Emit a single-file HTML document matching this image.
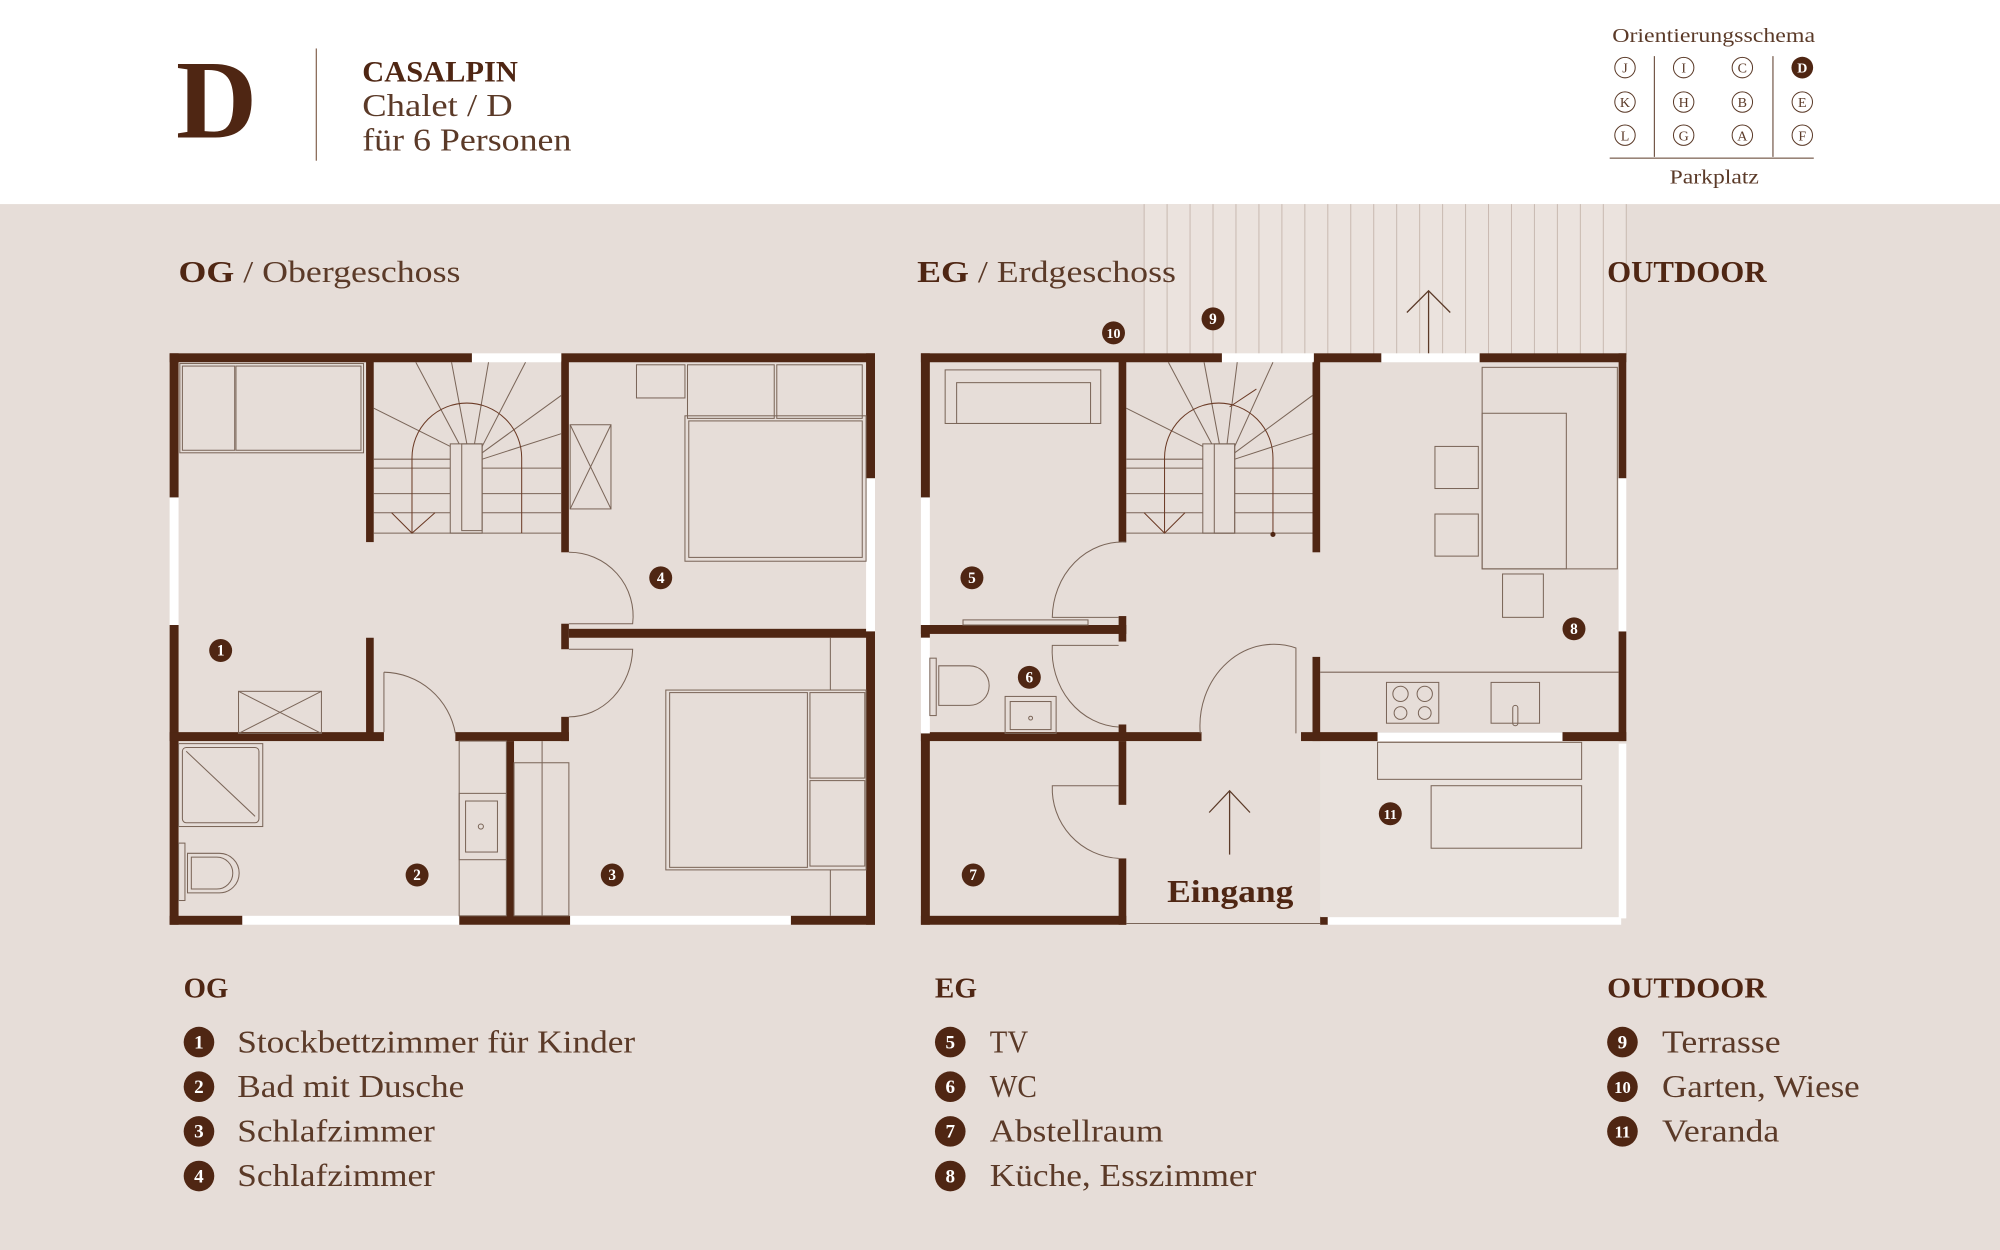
<!DOCTYPE html>
<html><head><meta charset="utf-8"><style>
html,body{margin:0;padding:0;background:#e6ddd8;}
svg{display:block}
text{font-family:"Liberation Serif",serif;}
</style></head><body>
<svg width="2000" height="1250" viewBox="0 0 1568 980" preserveAspectRatio="none" xmlns="http://www.w3.org/2000/svg">
<rect x="0" y="0" width="1568" height="980" fill="#e6ddd8"/>
<rect x="0" y="0" width="1568" height="160" fill="#ffffff"/>
<!-- header -->
<text x="138" y="108" font-size="88" font-weight="bold" fill="#4f2613">D</text>
<line x1="248" y1="38" x2="248" y2="126" stroke="#8a6a58" stroke-width="1"/>
<text x="284" y="64" font-size="23" font-weight="bold" fill="#4f2613" textLength="122" lengthAdjust="spacingAndGlyphs">CASALPIN</text>
<text x="284" y="91" font-size="25" fill="#5b3a28" textLength="118" lengthAdjust="spacingAndGlyphs">Chalet / D</text>
<text x="284" y="118" font-size="25" fill="#5b3a28" textLength="164" lengthAdjust="spacingAndGlyphs">für 6 Personen</text>
<!-- orientation -->
<text x="1264" y="33" font-size="16" fill="#5b3a28" textLength="159" lengthAdjust="spacingAndGlyphs">Orientierungsschema</text>
<g stroke="#5b3a28" stroke-width="0.8" fill="none">
<line x1="1297" y1="44" x2="1297" y2="123"/><line x1="1390" y1="44" x2="1390" y2="123"/>
<line x1="1262" y1="124" x2="1422" y2="124"/>
<circle cx="1274" cy="53" r="8"/><circle cx="1320" cy="53" r="8"/><circle cx="1366" cy="53" r="8"/>
<circle cx="1274" cy="80" r="8"/><circle cx="1320" cy="80" r="8"/><circle cx="1366" cy="80" r="8"/><circle cx="1413" cy="80" r="8"/>
<circle cx="1274" cy="106" r="8"/><circle cx="1320" cy="106" r="8"/><circle cx="1366" cy="106" r="8"/><circle cx="1413" cy="106" r="8"/>
</g>
<circle cx="1413" cy="53" r="8.5" fill="#4f2613"/>
<g font-size="11" fill="#5b3a28" text-anchor="middle">
<text x="1274" y="57">J</text><text x="1320" y="57">I</text><text x="1366" y="57">C</text><text x="1413" y="57" fill="#fff" font-weight="bold">D</text>
<text x="1274" y="84">K</text><text x="1320" y="84">H</text><text x="1366" y="84">B</text><text x="1413" y="84">E</text>
<text x="1274" y="110">L</text><text x="1320" y="110">G</text><text x="1366" y="110">A</text><text x="1413" y="110">F</text>
</g>
<text x="1309" y="144" font-size="16" fill="#5b3a28" textLength="70" lengthAdjust="spacingAndGlyphs">Parkplatz</text>

<!-- terrace -->
<rect x="897" y="160" width="378" height="118" fill="#ebe3de"/>
<g stroke="#c9bab1" stroke-width="0.8">
<line x1="897" y1="160" x2="897" y2="278"/><line x1="915" y1="160" x2="915" y2="278"/><line x1="933" y1="160" x2="933" y2="278"/><line x1="951" y1="160" x2="951" y2="278"/><line x1="969" y1="160" x2="969" y2="278"/><line x1="987" y1="160" x2="987" y2="278"/><line x1="1005" y1="160" x2="1005" y2="278"/><line x1="1023" y1="160" x2="1023" y2="278"/><line x1="1041" y1="160" x2="1041" y2="278"/><line x1="1059" y1="160" x2="1059" y2="278"/><line x1="1077" y1="160" x2="1077" y2="278"/><line x1="1095" y1="160" x2="1095" y2="278"/><line x1="1113" y1="160" x2="1113" y2="278"/><line x1="1131" y1="160" x2="1131" y2="278"/><line x1="1149" y1="160" x2="1149" y2="278"/><line x1="1167" y1="160" x2="1167" y2="278"/><line x1="1185" y1="160" x2="1185" y2="278"/><line x1="1203" y1="160" x2="1203" y2="278"/><line x1="1221" y1="160" x2="1221" y2="278"/><line x1="1239" y1="160" x2="1239" y2="278"/><line x1="1257" y1="160" x2="1257" y2="278"/><line x1="1275" y1="160" x2="1275" y2="278"/>
</g>
<g stroke="#5b3a28" stroke-width="1" fill="none"><line x1="1120" y1="228" x2="1120" y2="278"/><polyline points="1103,245 1120,228 1137,245"/></g>

<!-- section titles -->
<text x="140" y="221" font-size="24" fill="#5b3a28" textLength="221" lengthAdjust="spacingAndGlyphs"><tspan font-weight="bold" fill="#4f2613">OG</tspan> / Obergeschoss</text>
<text x="719" y="221" font-size="24" fill="#5b3a28" textLength="203" lengthAdjust="spacingAndGlyphs"><tspan font-weight="bold" fill="#4f2613">EG</tspan> / Erdgeschoss</text>
<text x="1260" y="221" font-size="24" font-weight="bold" fill="#4f2613" textLength="125" lengthAdjust="spacingAndGlyphs">OUTDOOR</text>

<!-- ============ OG PLAN ============ -->
<g fill="#4f2613">
<rect x="133" y="277" width="237" height="7"/><rect x="440" y="277" width="246" height="7"/>
<rect x="133" y="277" width="7" height="113"/><rect x="133" y="490" width="7" height="235"/>
<rect x="679" y="277" width="7" height="98"/><rect x="679" y="495" width="7" height="230"/>
<rect x="133" y="718" width="57" height="7"/><rect x="360" y="718" width="87" height="7"/><rect x="620" y="718" width="66" height="7"/>
<rect x="287" y="283" width="6" height="142"/>
<rect x="440" y="283" width="6" height="150"/>
<rect x="440" y="489" width="6" height="20"/>
<rect x="446" y="493" width="240" height="7"/>
<rect x="287" y="500" width="6" height="80"/>
<rect x="133" y="574" width="168" height="7"/>
<rect x="357" y="574" width="89" height="7"/>
<rect x="440" y="562" width="6" height="19"/>
<rect x="397" y="581" width="6" height="140"/>
</g>
<g fill="#ffffff"><rect x="370" y="277" width="70" height="7"/><rect x="133" y="390" width="7" height="100"/><rect x="679" y="375" width="7" height="120"/><rect x="190" y="718" width="170" height="7"/><rect x="447" y="718" width="173" height="7"/></g>
<g stroke="#7a6558" stroke-width="0.8" fill="none">
<rect x="141" y="285" width="144" height="70"/><rect x="143" y="287" width="41" height="66"/><rect x="185" y="287" width="98" height="66"/>
<rect x="187" y="542" width="65" height="33"/><line x1="187" y1="542" x2="252" y2="575"/><line x1="252" y1="542" x2="187" y2="575"/>
<rect x="353" y="348" width="25" height="70"/><rect x="362" y="348" width="16" height="68"/>
<line x1="293" y1="367" x2="353" y2="367"/><line x1="293" y1="387" x2="353" y2="387"/><line x1="293" y1="402" x2="353" y2="402"/>
<line x1="378" y1="367" x2="440" y2="367"/><line x1="378" y1="387" x2="440" y2="387"/><line x1="378" y1="402" x2="440" y2="402"/>
<line x1="293" y1="418" x2="440" y2="418"/>
<line x1="293" y1="320" x2="353" y2="350"/><line x1="293" y1="360" x2="353" y2="360"/><line x1="326" y1="284" x2="360" y2="348"/><line x1="354" y1="284" x2="366" y2="348"/><line x1="383" y1="284" x2="372" y2="348"/><line x1="412" y1="284" x2="378" y2="350"/><line x1="440" y1="310" x2="378" y2="355"/><line x1="440" y1="340" x2="378" y2="360"/>
<path d="M323,418 V359 A43,43 0 0 1 409,359 V418" stroke="#6b3a25"/>
<polyline points="307,402 323,418 341,402" stroke="#6b3a25"/>
<rect x="447" y="333" width="32" height="66"/><line x1="447" y1="333" x2="479" y2="399"/><line x1="479" y1="333" x2="447" y2="399"/>
<rect x="499" y="286" width="38" height="26"/>
<rect x="539" y="286" width="68" height="42"/><rect x="609" y="286" width="67" height="42"/>
<rect x="537" y="326" width="142" height="114"/><rect x="540" y="330" width="136" height="107"/>
<path d="M446,433 A50,50 0 0 1 496,489 H446"/>
<path d="M446,509 H496 A50,55 0 0 1 446,562"/>
<path d="M301,527 A58,58 0 0 1 357,575"/><line x1="301" y1="527" x2="301" y2="574"/>
<rect x="140" y="583" width="66" height="65"/><rect x="143" y="586" width="60" height="59" rx="3"/><line x1="146" y1="589" x2="200" y2="640"/>
<rect x="140" y="661" width="5" height="45"/><path d="M147,669 H172 A15,15 0 0 1 172,700 H147 Z"/><path d="M150,672 H170 A12,12 0 0 1 170,697 H150 Z"/>
<rect x="360" y="581" width="37" height="137"/><rect x="360" y="622" width="37" height="52"/><rect x="365" y="628" width="25" height="40"/><circle cx="377" cy="648" r="2"/>
<line x1="425" y1="581" x2="425" y2="718"/><rect x="403" y="598" width="43" height="120"/>
<rect x="522" y="541" width="157" height="141"/><rect x="525" y="543" width="108" height="137"/>
<rect x="635" y="543" width="43" height="67"/><rect x="635" y="612" width="43" height="67"/>
<line x1="651" y1="500" x2="651" y2="541"/><line x1="651" y1="682" x2="651" y2="718"/>
</g>

<!-- ============ EG PLAN ============ -->
<g fill="#4f2613">
<rect x="722" y="277" width="236" height="7"/><rect x="1030" y="277" width="53" height="7"/><rect x="1160" y="277" width="115" height="7"/>
<rect x="722" y="277" width="7" height="113"/><rect x="722" y="490" width="7" height="10"/><rect x="722" y="575" width="7" height="150"/>
<rect x="1269" y="277" width="6" height="98"/><rect x="1269" y="495" width="6" height="86"/>
<rect x="722" y="718" width="161" height="7"/><rect x="1035" y="718" width="6" height="7"/>
<rect x="877" y="283" width="6" height="142"/>
<rect x="722" y="490" width="161" height="7"/><rect x="877" y="483" width="6" height="20"/>
<rect x="722" y="574" width="220" height="7"/><rect x="877" y="568" width="6" height="10"/>
<rect x="877" y="581" width="6" height="50"/><rect x="877" y="673" width="6" height="52"/>
<rect x="1029" y="283" width="6" height="150"/>
<rect x="1029" y="515" width="6" height="66"/><rect x="1020" y="574" width="255" height="7"/>
</g>
<g fill="#ffffff"><rect x="958" y="277" width="72" height="7"/><rect x="1083" y="277" width="77" height="7"/><rect x="722" y="390" width="7" height="100"/><rect x="722" y="500" width="7" height="75"/><rect x="1269" y="375" width="6" height="120"/><rect x="1080" y="574" width="145" height="7"/><rect x="1041" y="719" width="230" height="6"/><rect x="1269" y="583" width="6" height="137"/></g>
<rect x="1035" y="582" width="234" height="137" fill="#e9e2dd"/>
<g stroke="#7a6558" stroke-width="0.8" fill="none">
<line x1="883" y1="724" x2="1035" y2="724"/>
<rect x="741" y="290" width="122" height="42"/><rect x="750" y="300" width="105" height="32"/>
<rect x="755" y="486" width="98" height="4"/>
<rect x="943" y="348" width="25" height="70"/><rect x="952" y="348" width="16" height="70"/>
<line x1="883" y1="367" x2="943" y2="367"/><line x1="883" y1="387" x2="943" y2="387"/><line x1="883" y1="402" x2="943" y2="402"/>
<line x1="968" y1="367" x2="1029" y2="367"/><line x1="968" y1="387" x2="1029" y2="387"/><line x1="968" y1="402" x2="1029" y2="402"/>
<line x1="883" y1="418" x2="1029" y2="418"/>
<line x1="883" y1="320" x2="943" y2="350"/><line x1="883" y1="360" x2="943" y2="360"/><line x1="916" y1="284" x2="950" y2="348"/><line x1="944" y1="284" x2="956" y2="348"/><line x1="970" y1="284" x2="962" y2="348"/><line x1="998" y1="284" x2="968" y2="350"/><line x1="1029" y1="310" x2="968" y2="355"/><line x1="1029" y1="340" x2="968" y2="360"/>
<path d="M913,418 V359 A42.5,43 0 0 1 998,359 V419" stroke="#6b3a25"/>
<polyline points="897,402 913,418 929,402" stroke="#6b3a25"/>
<line x1="964" y1="319" x2="985" y2="305" stroke="#6b3a25"/>
<rect x="1162" y="288" width="106" height="158"/><rect x="1162" y="324" width="66" height="122"/>
<rect x="1125" y="350" width="34" height="33"/><rect x="1125" y="403" width="34" height="33"/>
<rect x="1178" y="450" width="32" height="34"/>
<line x1="1035" y1="527" x2="1269" y2="527"/>
<rect x="1087" y="535" width="41" height="32"/><circle cx="1098" cy="544" r="6"/><circle cx="1117" cy="544" r="6"/><circle cx="1098" cy="559" r="5"/><circle cx="1117" cy="559" r="5"/>
<rect x="1169" y="535" width="38" height="32"/><rect x="1186" y="553" width="4" height="16" rx="2"/>
<rect x="729" y="516" width="5" height="45"/><path d="M736,522 H760 A15,15 0 0 1 760,553 H736 Z"/>
<rect x="788" y="546" width="40" height="29"/><rect x="792" y="550" width="32" height="22"/><circle cx="808" cy="563" r="1.5"/>
<path d="M883,425 A55,60 0 0 0 825,484 H877"/>
<path d="M877,506 H825 A55,60 0 0 0 877,570"/>
<path d="M941,575 A58,64 0 0 1 1016,508 V575"/>
<path d="M877,616 H825 A55,55 0 0 0 877,673"/>
<rect x="1080" y="582" width="160" height="29"/><rect x="1122" y="616" width="118" height="49"/>
</g>
<circle cx="998" cy="419" r="2" fill="#4f2613"/>
<g stroke="#5b3a28" stroke-width="1" fill="none"><line x1="964" y1="620" x2="964" y2="670"/><polyline points="948,637 964,620 980,637"/></g>
<text x="915" y="707" font-size="25" font-weight="bold" fill="#4f2613" textLength="99" lengthAdjust="spacingAndGlyphs">Eingang</text>

<!-- room markers -->
<g fill="#4f2613"><circle cx="173" cy="510" r="9"/><circle cx="327" cy="686" r="9"/><circle cx="480" cy="686" r="9"/><circle cx="518" cy="453" r="9"/>
<circle cx="762" cy="453" r="9"/><circle cx="807" cy="531" r="9"/><circle cx="763" cy="686" r="9"/><circle cx="1234" cy="493" r="9"/><circle cx="1090" cy="638" r="9"/><circle cx="951" cy="250" r="9"/><circle cx="873" cy="261" r="9"/></g>
<g fill="#fff" font-size="12" font-weight="bold" text-anchor="middle">
<text x="173" y="514">1</text><text x="327" y="690">2</text><text x="480" y="690">3</text><text x="518" y="457">4</text>
<text x="762" y="457">5</text><text x="807" y="535">6</text><text x="763" y="690">7</text><text x="1234" y="497">8</text><text x="1090" y="642" font-size="11">11</text><text x="951" y="254">9</text><text x="873" y="265" font-size="11">10</text></g>

<!-- legend -->
<text x="144" y="782" font-size="22" font-weight="bold" fill="#4f2613" textLength="35" lengthAdjust="spacingAndGlyphs">OG</text>
<text x="733" y="782" font-size="22" font-weight="bold" fill="#4f2613" textLength="33" lengthAdjust="spacingAndGlyphs">EG</text>
<text x="1260" y="782" font-size="22" font-weight="bold" fill="#4f2613" textLength="125" lengthAdjust="spacingAndGlyphs">OUTDOOR</text>
<g fill="#4f2613">
<circle cx="156" cy="817" r="12"/><circle cx="156" cy="852" r="12"/><circle cx="156" cy="887" r="12"/><circle cx="156" cy="922" r="12"/>
<circle cx="745" cy="817" r="12"/><circle cx="745" cy="852" r="12"/><circle cx="745" cy="887" r="12"/><circle cx="745" cy="922" r="12"/>
<circle cx="1272" cy="817" r="12"/><circle cx="1272" cy="852" r="12"/><circle cx="1272" cy="887" r="12"/>
</g>
<g fill="#fff" font-size="15" font-weight="bold" text-anchor="middle">
<text x="156" y="822">1</text><text x="156" y="857">2</text><text x="156" y="892">3</text><text x="156" y="927">4</text>
<text x="745" y="822">5</text><text x="745" y="857">6</text><text x="745" y="892">7</text><text x="745" y="927">8</text>
<text x="1272" y="822">9</text><text x="1272" y="857" font-size="13">10</text><text x="1272" y="892" font-size="13">11</text>
</g>
<g fill="#5b3a28" font-size="25">
<text x="186" y="825" textLength="312" lengthAdjust="spacingAndGlyphs">Stockbettzimmer für Kinder</text><text x="186" y="860" textLength="178" lengthAdjust="spacingAndGlyphs">Bad mit Dusche</text><text x="186" y="895" textLength="155" lengthAdjust="spacingAndGlyphs">Schlafzimmer</text><text x="186" y="930" textLength="155" lengthAdjust="spacingAndGlyphs">Schlafzimmer</text>
<text x="776" y="825" textLength="30" lengthAdjust="spacingAndGlyphs">TV</text><text x="776" y="860" textLength="37" lengthAdjust="spacingAndGlyphs">WC</text><text x="776" y="895" textLength="136" lengthAdjust="spacingAndGlyphs">Abstellraum</text><text x="776" y="930" textLength="209" lengthAdjust="spacingAndGlyphs">Küche, Esszimmer</text>
<text x="1303" y="825" textLength="93" lengthAdjust="spacingAndGlyphs">Terrasse</text><text x="1303" y="860" textLength="155" lengthAdjust="spacingAndGlyphs">Garten, Wiese</text><text x="1303" y="895" textLength="92" lengthAdjust="spacingAndGlyphs">Veranda</text>
</g>
</svg>
</body></html>
